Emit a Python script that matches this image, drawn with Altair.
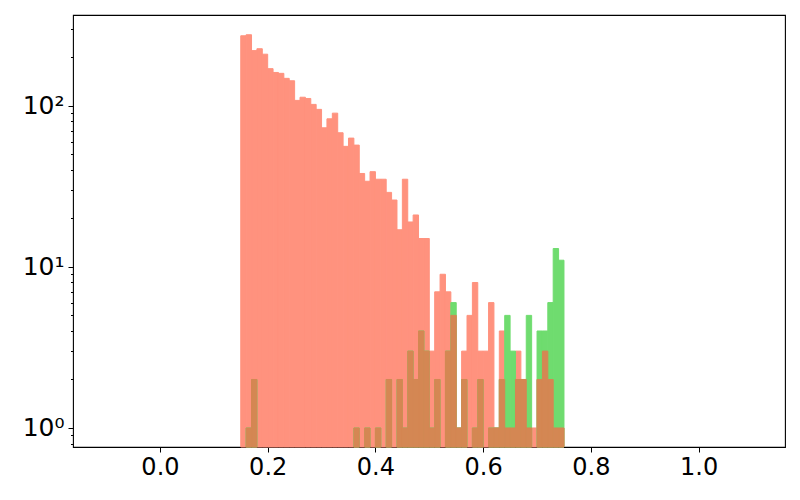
import altair as alt
import pandas as pd

# histogram bins: 60 bins of width 0.01 starting at 0.15
bin_left = [round(0.15 + 0.01 * i, 2) for i in range(60)]
bin_width = 0.01

red_counts = [272, 276, 220, 226, 209, 170, 161, 159, 148, 143,
              108, 113, 111, 102, 95, 73, 83, 90, 68, 56,
              63, 57, 38, 34, 39, 35, 35, 29, 26, 17,
              35, 19, 21, 15, 15, 3, 7, 9, 7, 5,
              1, 3, 5, 8, 3, 3, 6, 1, 4, 1,
              1, 3, 2, 1, 1, 2, 3, 2, 1, 1]

green_counts = [0, 1, 2, 0, 0, 0, 0, 0, 0, 0,
                0, 0, 0, 0, 0, 0, 0, 0, 0, 0,
                0, 1, 0, 1, 0, 1, 0, 2, 0, 2,
                1, 3, 2, 4, 3, 1, 2, 0, 3, 6,
                1, 2, 0, 1, 2, 0, 1, 1, 2, 5,
                3, 2, 2, 5, 0, 4, 4, 6, 13, 11]

x_ticks = [0.0, 0.2, 0.4, 0.6, 0.8, 1.0]
y_major = [1, 10, 100]
y_minor = [0.8, 0.9, 2, 3, 4, 5, 6, 7, 8, 9, 20, 30, 40, 50, 60, 70, 80, 90, 200, 300]
y_labels = {1: "10⁰", 10: "10¹", 100: "10²"}

# colours as they appear: tomato and limegreen at 70 % over white, and their overlap
RED = "#FF927E"
GREEN = "#6FDC6F"
OVERLAP = "#D48753"


def frame(counts):
    df = pd.DataFrame({"x0": bin_left, "count": counts})
    df["x1"] = df["x0"] + bin_width
    return df[df["count"] > 0]


overlap_counts = [min(r, g) for r, g in zip(red_counts, green_counts)]

x_scale = alt.Scale(domain=[-0.1614, 1.1603], nice=False, zero=False)
y_scale = alt.Scale(type="log", domain=[0.762, 366], nice=False)

label_expr = " : ".join(
    f"datum.value == {k} ? '{v}'" for k, v in y_labels.items()
) + " : ''"

x_axis = alt.Axis(values=x_ticks, format=".1f", title=None, grid=False,
                  domain=False, tickSize=5, tickColor="black", labelFontSize=24,
                  labelFont="DejaVu Sans", labelColor="black", labelPadding=3,
                  labelFlush=False)

y_axis = alt.Axis(values=y_major + y_minor, labelExpr=label_expr, title=None,
                  grid=False, domain=False, tickColor="black",
                  tickSize={"condition": {"test": "datum.value == 1 || datum.value == 10 || datum.value == 100",
                                          "value": 5}, "value": 2.5},
                  labelFontSize=25, labelFont="DejaVu Sans", labelColor="black",
                  labelPadding=4)


def bars(counts, color):
    return alt.Chart(frame(counts)).mark_rect(
        color=color, stroke=color, strokeWidth=1
    ).encode(
        x=alt.X("x0:Q", scale=x_scale, axis=x_axis),
        x2="x1:Q",
        y=alt.Y("count:Q", scale=y_scale, axis=y_axis),
        y2=alt.value("height"),
    )


chart = alt.layer(
    bars(red_counts, RED),
    bars(green_counts, GREEN),
    bars(overlap_counts, OVERLAP),
).properties(
    width=712, height=432,
    autosize=alt.AutoSizeParams(type="none"),
    padding={"left": 65, "top": 7, "right": 7, "bottom": 45},
    background="white",
).configure_view(stroke="black", strokeWidth=1.1)

chart.save("out.html", embed_options={"renderer": "svg", "actions": False})
